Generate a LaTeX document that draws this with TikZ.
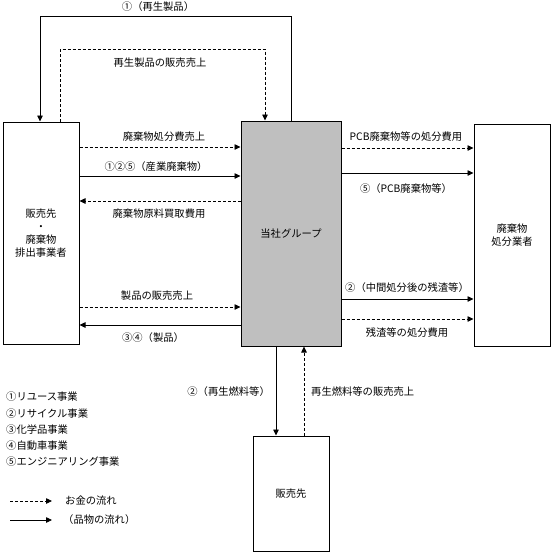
\documentclass[tikz,border=0pt]{standalone}
\usepackage{fontspec}
\setmainfont{Noto Sans CJK JP}
\usetikzlibrary{arrows.meta}
\begin{document}
\begin{tikzpicture}[x=1pt,y=-1pt,
  box/.style={draw=black,line width=1pt,inner sep=0pt,align=center,font=\fontsize{10.3}{13}\selectfont},
  goods/.style={draw=black,line width=0.8pt,-{Triangle[length=6pt,width=5.5pt]}},
  money/.style={goods,dash pattern=on 3pt off 2pt},
  lbl/.style={inner sep=0pt,font=\fontsize{10.3}{12}\selectfont,text=black}]
\useasboundingbox (0,0) rectangle (552,552);
% boxes
\node[box,minimum width=76pt,minimum height=222pt] (L) at (41,233) {販売先\\・\\廃棄物\\排出事業者};
\node[box,fill=black!25,minimum width=100pt,minimum height=225pt] (C) at (291,233.5) {当社グループ};
\node[box,minimum width=76pt,minimum height=222pt] (R) at (512,235) {廃棄物\\処分業者};
\node[box,minimum width=76pt,minimum height=115pt] (B) at (291,493.5) {販売先};
% top loops
\coordinate (t1a) at (291,16); \coordinate (t1b) at (40,16);
\draw[goods] (C.north -| t1a) -- (t1a) -- (t1b) -- (L.north -| t1b);
\node[lbl] (l1) at (158,7) {①（再生製品）};
\coordinate (t2a) at (60,49); \coordinate (t2b) at (265,49);
\draw[money] (L.north -| t2a) -- (t2a) -- (t2b) -- (C.north -| t2b);
\node[lbl] (l2) at (160,63) {再生製品の販売売上};
% left-center
\draw[money] (L.east |- 0,147) -- (C.west |- 0,147);
\node[lbl] (l3) at (164,137) {廃棄物処分費売上};
\draw[goods] (L.east |- 0,176) -- (C.west |- 0,176);
\node[lbl] (l4) at (156,167) {①②⑤（産業廃棄物）};
\draw[money] (C.west |- 0,201) -- (L.east |- 0,201);
\node[lbl] (l5) at (159,214) {廃棄物原料買取費用};
\draw[money] (L.east |- 0,307) -- (C.west |- 0,307);
\node[lbl] (l6) at (157,296) {製品の販売売上};
\draw[goods] (C.west |- 0,325) -- (L.east |- 0,325);
\node[lbl] (l7) at (153,338) {③④（製品）};
% center-right
\draw[money] (C.east |- 0,148) -- (R.west |- 0,148);
\node[lbl] (l8) at (406,137) {PCB廃棄物等の処分費用};
\draw[goods] (C.east |- 0,173) -- (R.west |- 0,173);
\node[lbl] (l9) at (406,189) {⑤（PCB廃棄物等）};
\draw[goods] (C.east |- 0,299) -- (R.west |- 0,299);
\node[lbl] (l10) at (407,288) {②（中間処分後の残渣等）};
\draw[money] (C.east |- 0,319) -- (R.west |- 0,319);
\node[lbl] (l11) at (407,333) {残渣等の処分費用};
% center-bottom
\draw[goods] (C.south -| 276,0) -- (B.north -| 276,0);
\node[lbl,anchor=east] (l12) at (270,392) {②（再生燃料等）};
\draw[money] (B.north -| 304,0) -- (C.south -| 304,0);
\node[lbl,anchor=west] (l13) at (311,392) {再生燃料等の販売売上};
% legend
\node[lbl,anchor=west] (g1) at (6,397) {①リユース事業};
\node[lbl,anchor=west] (g2) at (6,414) {②リサイクル事業};
\node[lbl,anchor=west] (g3) at (6,430) {③化学品事業};
\node[lbl,anchor=west] (g4) at (6,446) {④自動車事業};
\node[lbl,anchor=west] (g5) at (6,462) {⑤エンジニアリング事業};
\coordinate (k1a) at (10,501); \coordinate (k1b) at (52,501);
\draw[money] (k1a) -- (k1b);
\node[lbl,anchor=west] (g6) at (65,501) {お金の流れ};
\coordinate (k2a) at (10,520); \coordinate (k2b) at (52,520);
\draw[goods] (k2a) -- (k2b);
\node[lbl,anchor=west] (g7) at (63,520) {（品物の流れ）};
\end{tikzpicture}
\end{document}
